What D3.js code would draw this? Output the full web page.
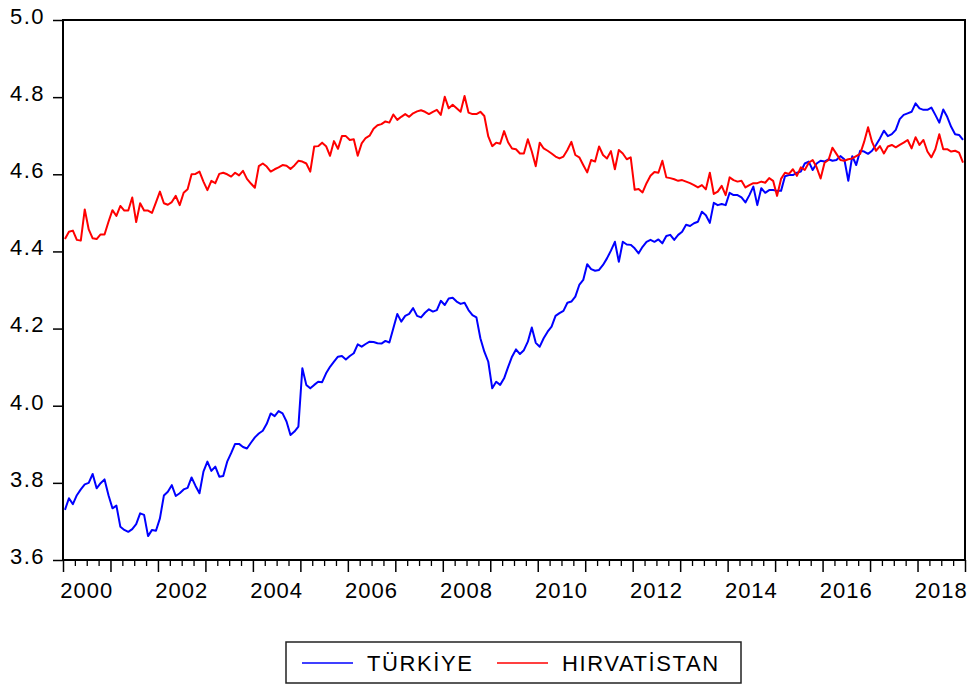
<!DOCTYPE html>
<html>
<head>
<meta charset="utf-8">
<script src="https://cdn.jsdelivr.net/npm/d3@7/dist/d3.min.js"></script>
<style>
  body { margin: 0; background: #fff; }
  text { font-family: Arial, "Liberation Sans", sans-serif; }
</style>
</head>
<body>
<div id="chart"></div>
<script>
// monthly, 2000M01 - 2018M12
var startYear = 2000;
var yearLabels = ["2000", "2002", "2004", "2006", "2008", "2010", "2012", "2014", "2016", "2018"];
var yTicks = [3.6, 3.8, 4.0, 4.2, 4.4, 4.6, 4.8, 5.0];
var seriesNames = ["TÜRKİYE", "HIRVATİSTAN"];

var turkiye = [
  3.730, 3.760, 3.745, 3.768, 3.783, 3.796, 3.800, 3.823, 3.786, 3.799, 3.809, 3.768,
  3.734, 3.741, 3.686, 3.678, 3.673, 3.680, 3.693, 3.721, 3.717, 3.662, 3.678, 3.676,
  3.708, 3.767, 3.777, 3.794, 3.766, 3.773, 3.783, 3.787, 3.814, 3.792, 3.773, 3.829,
  3.855, 3.831, 3.842, 3.816, 3.818, 3.855, 3.877, 3.901, 3.901, 3.893, 3.889, 3.904,
  3.918, 3.928, 3.935, 3.953, 3.980, 3.973, 3.986, 3.980, 3.959, 3.924, 3.933, 3.946,
  4.097, 4.054, 4.045, 4.054, 4.062, 4.061, 4.084, 4.101, 4.114, 4.127, 4.129, 4.120,
  4.129, 4.136, 4.159, 4.153, 4.160, 4.166, 4.165, 4.162, 4.161, 4.168, 4.164, 4.201,
  4.238, 4.218, 4.233, 4.238, 4.253, 4.233, 4.229, 4.241, 4.250, 4.244, 4.248, 4.272,
  4.261, 4.278, 4.280, 4.270, 4.264, 4.267, 4.248, 4.235, 4.229, 4.175, 4.140, 4.114,
  4.045, 4.062, 4.054, 4.071, 4.100, 4.127, 4.146, 4.134, 4.144, 4.166, 4.203, 4.163,
  4.153, 4.175, 4.192, 4.205, 4.233, 4.240, 4.246, 4.267, 4.270, 4.283, 4.313, 4.326,
  4.367, 4.354, 4.350, 4.352, 4.365, 4.382, 4.402, 4.425, 4.373, 4.425, 4.418, 4.417,
  4.408, 4.395, 4.412, 4.425, 4.430, 4.425, 4.431, 4.421, 4.440, 4.443, 4.430, 4.443,
  4.451, 4.469, 4.466, 4.473, 4.477, 4.503, 4.494, 4.474, 4.526, 4.520, 4.523, 4.520,
  4.552, 4.546, 4.546, 4.540, 4.527, 4.546, 4.568, 4.520, 4.564, 4.552, 4.559, 4.559,
  4.557, 4.557, 4.595, 4.598, 4.598, 4.604, 4.607, 4.628, 4.633, 4.611, 4.628, 4.635,
  4.633, 4.639, 4.635, 4.637, 4.647, 4.639, 4.583, 4.647, 4.624, 4.661, 4.659, 4.653,
  4.661, 4.676, 4.693, 4.713, 4.699, 4.704, 4.715, 4.743, 4.754, 4.758, 4.762, 4.784,
  4.771, 4.767, 4.767, 4.773, 4.754, 4.734, 4.768, 4.749, 4.723, 4.704, 4.702, 4.689
];

var hirvatistan = [
  4.432, 4.451, 4.454, 4.430, 4.428, 4.509, 4.457, 4.434, 4.432, 4.444, 4.444, 4.477,
  4.507, 4.492, 4.518, 4.506, 4.506, 4.540, 4.476, 4.525, 4.506, 4.506, 4.500, 4.527,
  4.555, 4.525, 4.521, 4.528, 4.544, 4.520, 4.552, 4.561, 4.600, 4.601, 4.607, 4.581,
  4.559, 4.583, 4.577, 4.601, 4.604, 4.600, 4.594, 4.604, 4.597, 4.609, 4.588, 4.576,
  4.565, 4.621, 4.628, 4.620, 4.607, 4.613, 4.618, 4.624, 4.622, 4.614, 4.623, 4.635,
  4.633, 4.628, 4.607, 4.672, 4.673, 4.682, 4.673, 4.648, 4.686, 4.666, 4.699, 4.699,
  4.689, 4.691, 4.648, 4.680, 4.694, 4.700, 4.718, 4.727, 4.730, 4.737, 4.734, 4.755,
  4.741, 4.749, 4.756, 4.749, 4.758, 4.763, 4.766, 4.762, 4.756, 4.762, 4.767, 4.754,
  4.801, 4.771, 4.780, 4.771, 4.762, 4.803, 4.760, 4.756, 4.756, 4.762, 4.751, 4.698,
  4.673, 4.682, 4.679, 4.712, 4.683, 4.667, 4.665, 4.654, 4.654, 4.691, 4.659, 4.621,
  4.682, 4.667, 4.661, 4.654, 4.646, 4.641, 4.646, 4.663, 4.684, 4.650, 4.644, 4.624,
  4.605, 4.637, 4.633, 4.672, 4.650, 4.641, 4.660, 4.613, 4.663, 4.654, 4.639, 4.644,
  4.560, 4.562, 4.553, 4.577, 4.596, 4.606, 4.604, 4.635, 4.592, 4.590, 4.587, 4.583,
  4.585, 4.581, 4.577, 4.572, 4.566, 4.572, 4.561, 4.604, 4.549, 4.555, 4.570, 4.546,
  4.592, 4.585, 4.581, 4.583, 4.566, 4.572, 4.577, 4.577, 4.581, 4.578, 4.590, 4.583,
  4.544, 4.588, 4.604, 4.601, 4.613, 4.596, 4.618, 4.611, 4.630, 4.637, 4.618, 4.589,
  4.630, 4.637, 4.669, 4.653, 4.637, 4.635, 4.639, 4.641, 4.647, 4.653, 4.684, 4.722,
  4.684, 4.661, 4.673, 4.654, 4.672, 4.676, 4.670, 4.676, 4.682, 4.689, 4.667, 4.696,
  4.676, 4.689, 4.659, 4.644, 4.665, 4.704, 4.665, 4.665, 4.659, 4.661, 4.656, 4.630
];

var colors = ["#0000ff", "#ff0000"];

var W = 974, H = 686;
var m = {left: 63, top: 20, right: 9, bottom: 126};
var nMonths = turkiye.length;

var svg = d3.select("#chart").append("svg")
    .attr("width", W).attr("height", H);

var x = d3.scaleLinear().domain([0, nMonths]).range([m.left, W - m.right]);
var y = d3.scaleLinear().domain([3.6, 5.0]).range([H - m.bottom, m.top]);

// minor ticks every quarter, major every year
var quarters = d3.range(0, nMonths + 1, 3);
var years = d3.range(0, nMonths + 1, 12);

svg.append("g")
    .attr("transform", "translate(0," + (H - m.bottom) + ")")
    .call(d3.axisBottom(x).tickValues(quarters.filter(function(d) { return d % 12 != 0; }))
        .tickSize(6).tickFormat(""))
    .call(function(g) { g.select(".domain").remove(); })
    .selectAll("line").attr("stroke", "#000").attr("stroke-width", 1.3);

svg.append("g")
    .attr("transform", "translate(0," + (H - m.bottom) + ")")
    .call(d3.axisBottom(x).tickValues(years).tickSize(12).tickFormat(""))
    .call(function(g) { g.select(".domain").remove(); })
    .selectAll("line").attr("stroke", "#000").attr("stroke-width", 1.5);

// year labels centred in their year
svg.append("g").selectAll("text")
    .data(yearLabels).enter().append("text")
    .attr("x", function(d) { return x((+d - startYear) * 12 + 6); })
    .attr("y", H - m.bottom + 38)
    .attr("text-anchor", "middle")
    .attr("font-size", 22)
    .attr("letter-spacing", 1)
    .attr("fill", "#000")
    .text(function(d) { return d; });

var yAxis = svg.append("g")
    .attr("transform", "translate(" + m.left + ",0)")
    .call(d3.axisLeft(y).tickValues(yTicks).tickSize(10).tickPadding(8)
        .tickFormat(d3.format(".1f")));
yAxis.select(".domain").remove();
yAxis.selectAll("line").attr("stroke", "#000").attr("stroke-width", 1.5);
yAxis.selectAll("text")
    .attr("font-size", 22)
    .attr("letter-spacing", 1.5)
    .attr("fill", "#000")
    .attr("dy", "0.15em");

// frame
svg.append("rect")
    .attr("x", m.left).attr("y", m.top)
    .attr("width", W - m.left - m.right).attr("height", H - m.top - m.bottom)
    .attr("fill", "none").attr("stroke", "#000").attr("stroke-width", 2);

var line = d3.line()
    .x(function(d, i) { return x(i + 0.5); })
    .y(function(d) { return y(d); });

[turkiye, hirvatistan].forEach(function(s, k) {
    svg.append("path")
        .datum(s)
        .attr("d", line)
        .attr("fill", "none")
        .attr("stroke", colors[k])
        .attr("stroke-width", 2)
        .attr("stroke-linejoin", "round");
});

// legend
var leg = svg.append("g");
leg.append("rect")
    .attr("x", 286).attr("y", 642).attr("width", 455).attr("height", 41)
    .attr("fill", "#fff").attr("stroke", "#222").attr("stroke-width", 1.5);

var legX = [302, 497];
seriesNames.forEach(function(name, k) {
    leg.append("line")
        .attr("x1", legX[k]).attr("x2", legX[k] + 51)
        .attr("y1", 663).attr("y2", 663)
        .attr("stroke", colors[k]).attr("stroke-width", 1.5);
    leg.append("text")
        .attr("x", legX[k] + 65).attr("y", 671)
        .attr("font-size", 22)
        .attr("letter-spacing", 1.6)
        .attr("fill", "#000")
        .text(name);
});
</script>
</body>
</html>
